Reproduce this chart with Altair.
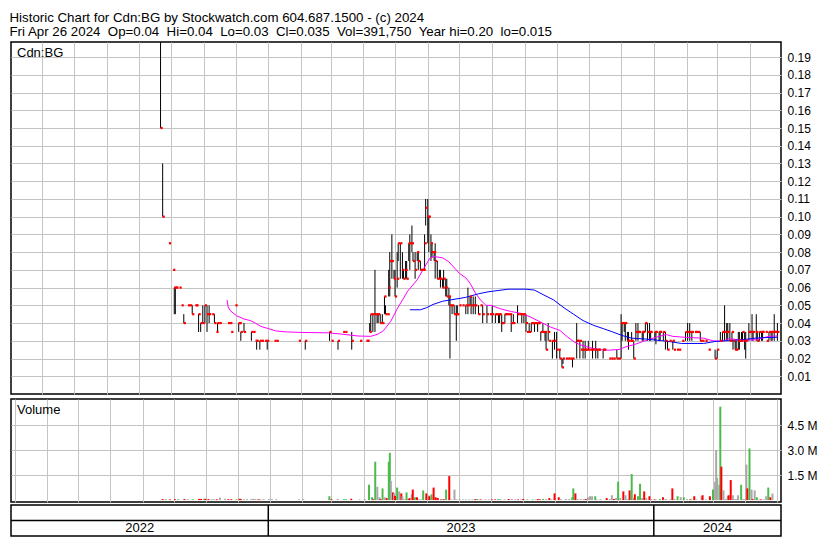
import altair as alt
import pandas as pd

FONT = "Liberation Sans"

# ---------------- data (day offsets from 2023-01-01) ----------------
# price bars: (day, high, low, close)
bars_2022 = [
    (-102, 0.20, 0.15, 0.15), (-100, 0.13, 0.10, 0.10), (-94, 0.085, 0.085, 0.085), (-90, 0.07, 0.07, 0.07),
    (-89, 0.06, 0.045, 0.06), (-88, 0.06, 0.045, 0.06), (-87, 0.06, 0.06, 0.06), (-84, 0.06, 0.06, 0.06),
    (-82, 0.05, 0.05, 0.05), (-80, 0.045, 0.04, 0.04), (-76, 0.05, 0.05, 0.05), (-74, 0.05, 0.05, 0.05),
    (-72, 0.05, 0.045, 0.045), (-69, 0.05, 0.05, 0.05), (-68, 0.05, 0.05, 0.05), (-66, 0.045, 0.035, 0.045),
    (-64, 0.04, 0.035, 0.04), (-62, 0.05, 0.04, 0.04), (-60, 0.05, 0.04, 0.05), (-58, 0.05, 0.035, 0.045),
    (-56, 0.05, 0.04, 0.045), (-53, 0.045, 0.045, 0.045), (-51, 0.045, 0.04, 0.04), (-49, 0.035, 0.035, 0.035),
    (-48, 0.04, 0.035, 0.04), (-46, 0.04, 0.04, 0.04), (-38, 0.04, 0.04, 0.04), (-36, 0.04, 0.04, 0.04),
    (-35, 0.035, 0.035, 0.035), (-31, 0.05, 0.05, 0.05), (-28, 0.04, 0.035, 0.04), (-27, 0.04, 0.04, 0.04),
    (-26, 0.035, 0.03, 0.035), (-23, 0.04, 0.035, 0.035), (-16, 0.035, 0.03, 0.035), (-14, 0.035, 0.035, 0.035),
    (-12, 0.03, 0.03, 0.03), (-11, 0.03, 0.025, 0.03), (-8, 0.03, 0.025, 0.03), (-6, 0.03, 0.03, 0.03),
    (-3, 0.03, 0.03, 0.03), (-1, 0.03, 0.025, 0.03),
]
bars_2023_q1 = [
    (6, 0.03, 0.03, 0.03), (8, 0.03, 0.03, 0.03), (29, 0.03, 0.03, 0.03), (35, 0.03, 0.025, 0.03),
    (58, 0.035, 0.03, 0.035), (60, 0.03, 0.03, 0.03), (66, 0.03, 0.025, 0.03), (71, 0.035, 0.035, 0.035),
    (73, 0.035, 0.035, 0.035), (79, 0.035, 0.025, 0.03), (87, 0.03, 0.03, 0.03), (93, 0.03, 0.03, 0.03),
    (94, 0.03, 0.03, 0.03),
]
bars_2023_q2 = [
    (96, 0.04, 0.035, 0.035), (97, 0.045, 0.035, 0.045), (99, 0.045, 0.035, 0.045), (101, 0.07, 0.035, 0.045),
    (103, 0.045, 0.04, 0.045), (104, 0.045, 0.04, 0.045), (106, 0.045, 0.04, 0.04), (108, 0.045, 0.04, 0.04),
    (110, 0.055, 0.045, 0.055), (111, 0.05, 0.045, 0.045), (113, 0.045, 0.045, 0.045), (114, 0.07, 0.055, 0.06),
    (115, 0.08, 0.055, 0.075), (117, 0.09, 0.065, 0.075), (119, 0.07, 0.065, 0.065), (120, 0.07, 0.055, 0.055),
    (122, 0.08, 0.06, 0.065), (123, 0.085, 0.075, 0.085), (125, 0.085, 0.065, 0.085), (127, 0.08, 0.065, 0.07),
    (128, 0.07, 0.065, 0.065), (130, 0.075, 0.065, 0.07), (131, 0.075, 0.065, 0.065), (133, 0.085, 0.075, 0.085),
    (134, 0.09, 0.07, 0.085), (136, 0.095, 0.08, 0.085), (137, 0.08, 0.075, 0.075), (139, 0.08, 0.065, 0.07),
    (141, 0.08, 0.075, 0.08), (142, 0.08, 0.07, 0.075), (144, 0.075, 0.07, 0.07), (145, 0.07, 0.07, 0.07),
    (147, 0.07, 0.07, 0.07), (148, 0.09, 0.07, 0.085), (149, 0.11, 0.095, 0.105), (151, 0.11, 0.085, 0.10),
    (152, 0.10, 0.08, 0.10), (154, 0.09, 0.075, 0.085), (155, 0.085, 0.077, 0.08), (157, 0.08, 0.075, 0.08),
    (158, 0.085, 0.065, 0.075), (160, 0.075, 0.065, 0.065), (162, 0.07, 0.065, 0.065), (163, 0.07, 0.06, 0.065),
    (165, 0.065, 0.06, 0.06), (166, 0.07, 0.06, 0.065), (168, 0.065, 0.055, 0.06), (169, 0.065, 0.055, 0.055),
    (171, 0.06, 0.05, 0.055), (172, 0.055, 0.02, 0.05), (174, 0.05, 0.045, 0.05), (176, 0.05, 0.045, 0.045),
    (178, 0.05, 0.03, 0.045), (179, 0.05, 0.045, 0.045), (181, 0.05, 0.05, 0.05), (184, 0.05, 0.05, 0.05),
    (187, 0.05, 0.045, 0.05), (189, 0.06, 0.045, 0.05), (191, 0.055, 0.05, 0.055), (192, 0.055, 0.045, 0.05),
    (194, 0.055, 0.045, 0.05), (196, 0.055, 0.045, 0.05), (199, 0.05, 0.045, 0.045), (201, 0.05, 0.05, 0.05),
    (203, 0.05, 0.04, 0.045), (207, 0.05, 0.04, 0.045),
]
bars_2023_h2 = [
    (210, 0.045, 0.045, 0.045), (212, 0.05, 0.04, 0.045), (215, 0.045, 0.04, 0.045), (216, 0.045, 0.045, 0.045),
    (218, 0.045, 0.04, 0.045), (219, 0.045, 0.04, 0.045), (221, 0.045, 0.035, 0.04), (222, 0.04, 0.04, 0.04),
    (224, 0.045, 0.04, 0.045), (225, 0.045, 0.045, 0.045), (227, 0.045, 0.045, 0.045), (229, 0.045, 0.045, 0.045),
    (230, 0.045, 0.035, 0.04), (232, 0.045, 0.04, 0.04), (236, 0.05, 0.04, 0.045), (238, 0.045, 0.045, 0.045),
    (240, 0.045, 0.04, 0.045), (242, 0.045, 0.04, 0.045), (244, 0.045, 0.035, 0.04), (245, 0.035, 0.035, 0.035),
    (247, 0.04, 0.035, 0.035), (249, 0.04, 0.035, 0.04), (250, 0.04, 0.04, 0.04), (252, 0.04, 0.035, 0.04),
    (253, 0.04, 0.04, 0.04), (255, 0.04, 0.035, 0.04), (256, 0.04, 0.04, 0.04), (258, 0.035, 0.03, 0.035),
    (260, 0.04, 0.035, 0.035), (262, 0.035, 0.03, 0.035), (263, 0.035, 0.025, 0.025), (265, 0.04, 0.03, 0.035),
    (266, 0.03, 0.03, 0.03), (269, 0.03, 0.02, 0.03), (271, 0.035, 0.025, 0.03), (273, 0.035, 0.02, 0.025),
    (275, 0.025, 0.025, 0.025), (276, 0.025, 0.02, 0.02), (278, 0.02, 0.015, 0.015), (279, 0.02, 0.017, 0.02),
    (282, 0.02, 0.02, 0.02), (284, 0.02, 0.02, 0.02), (286, 0.02, 0.02, 0.02), (288, 0.02, 0.015, 0.02),
    (292, 0.04, 0.02, 0.03), (293, 0.03, 0.03, 0.03), (295, 0.03, 0.02, 0.03), (296, 0.025, 0.025, 0.025),
    (298, 0.03, 0.02, 0.025), (300, 0.03, 0.02, 0.025), (301, 0.025, 0.025, 0.025), (303, 0.03, 0.025, 0.025),
    (305, 0.025, 0.025, 0.025), (307, 0.03, 0.02, 0.025), (309, 0.025, 0.025, 0.025), (310, 0.03, 0.02, 0.025),
    (312, 0.025, 0.02, 0.025), (313, 0.025, 0.025, 0.025), (317, 0.025, 0.02, 0.025), (318, 0.025, 0.025, 0.025),
    (323, 0.02, 0.02, 0.02), (325, 0.02, 0.02, 0.02), (327, 0.02, 0.02, 0.02), (330, 0.025, 0.02, 0.02),
    (332, 0.02, 0.02, 0.02),
]
bars_late = [
    (334, 0.045, 0.02, 0.04), (335, 0.04, 0.03, 0.04), (337, 0.04, 0.035, 0.04), (338, 0.04, 0.03, 0.04),
    (340, 0.035, 0.03, 0.03), (341, 0.035, 0.025, 0.03), (343, 0.03, 0.03, 0.03), (344, 0.035, 0.03, 0.03),
    (346, 0.03, 0.02, 0.02), (348, 0.04, 0.03, 0.035), (350, 0.04, 0.03, 0.035), (351, 0.035, 0.035, 0.035),
    (354, 0.035, 0.03, 0.035), (355, 0.035, 0.03, 0.035), (357, 0.04, 0.035, 0.04), (359, 0.04, 0.03, 0.035),
    (361, 0.04, 0.03, 0.035), (362, 0.035, 0.03, 0.035), (366, 0.035, 0.03, 0.035), (367, 0.035, 0.028, 0.035),
    (370, 0.035, 0.03, 0.035), (371, 0.035, 0.03, 0.035), (374, 0.035, 0.03, 0.035), (376, 0.035, 0.025, 0.03),
    (378, 0.03, 0.025, 0.025), (380, 0.03, 0.03, 0.03), (383, 0.03, 0.025, 0.03), (384, 0.025, 0.025, 0.025),
    (387, 0.025, 0.025, 0.025), (389, 0.025, 0.025, 0.025), (392, 0.03, 0.03, 0.03), (395, 0.035, 0.03, 0.035),
    (397, 0.04, 0.03, 0.035), (399, 0.04, 0.03, 0.035), (401, 0.035, 0.03, 0.035), (404, 0.035, 0.035, 0.035),
    (405, 0.035, 0.035, 0.035), (407, 0.035, 0.035, 0.035), (409, 0.035, 0.03, 0.03), (411, 0.03, 0.03, 0.03),
    (414, 0.03, 0.03, 0.03), (417, 0.025, 0.025, 0.025), (423, 0.025, 0.02, 0.02), (425, 0.025, 0.02, 0.025),
    (428, 0.035, 0.03, 0.03), (430, 0.035, 0.03, 0.035), (432, 0.05, 0.03, 0.035), (434, 0.04, 0.03, 0.035),
    (435, 0.04, 0.03, 0.035), (437, 0.04, 0.03, 0.03), (439, 0.035, 0.03, 0.035), (440, 0.03, 0.025, 0.03),
    (442, 0.03, 0.025, 0.025), (443, 0.03, 0.025, 0.025), (445, 0.035, 0.025, 0.03), (446, 0.035, 0.025, 0.03),
    (448, 0.035, 0.03, 0.03), (449, 0.035, 0.03, 0.035), (451, 0.035, 0.025, 0.03), (452, 0.035, 0.02, 0.03),
    (455, 0.04, 0.03, 0.035), (456, 0.035, 0.035, 0.035), (458, 0.045, 0.03, 0.035), (459, 0.035, 0.03, 0.035),
    (462, 0.045, 0.03, 0.035), (463, 0.035, 0.03, 0.03), (465, 0.035, 0.03, 0.035), (467, 0.035, 0.03, 0.035),
    (468, 0.035, 0.03, 0.035), (471, 0.035, 0.035, 0.035), (472, 0.03, 0.03, 0.03), (474, 0.035, 0.03, 0.035),
    (476, 0.035, 0.03, 0.035), (477, 0.035, 0.03, 0.035), (479, 0.045, 0.03, 0.035), (480, 0.035, 0.035, 0.035),
    (482, 0.04, 0.03, 0.035),
]

# volume: (day, millions of shares, direction)
vol_2022 = [
    (-103, 0.06, "down"), (-100, 0.05, "up"), (-96, 0.04, "down"), (-91, 0.05, "down"), (-88, 0.05, "up"),
    (-82, 0.06, "down"), (-79, 0.05, "flat"), (-74, 0.05, "up"), (-68, 0.07, "down"), (-66, 0.07, "down"),
    (-63, 0.08, "up"), (-62, 0.07, "down"), (-59, 0.06, "down"), (-56, 0.05, "flat"), (-54, 0.05, "flat"),
    (-51, 0.05, "down"), (-48, 0.15, "flat"), (-43, 0.08, "flat"), (-40, 0.05, "down"), (-37, 0.05, "down"),
    (-32, 0.05, "up"), (-29, 0.08, "down"), (-28, 0.06, "down"), (-25, 0.05, "flat"), (-22, 0.05, "flat"),
    (-18, 0.05, "flat"), (-16, 0.08, "flat"), (-14, 0.06, "flat"), (-11, 0.05, "down"), (-9, 0.05, "flat"),
    (-6, 0.05, "flat"), (-1, 0.06, "flat"),
]
vol_2023 = [
    (2, 0.05, "flat"), (6, 0.05, "flat"), (28, 0.05, "flat"), (32, 0.05, "flat"), (57, 0.23, "up"),
    (59, 0.05, "down"), (65, 0.07, "flat"), (71, 0.05, "up"), (73, 0.05, "up"), (78, 0.08, "down"),
    (86, 0.04, "flat"), (91, 0.05, "flat"),
    (95, 0.92, "up"), (98, 0.17, "up"), (99, 0.05, "down"), (101, 2.3, "up"), (103, 0.8, "flat"),
    (105, 0.17, "flat"), (106, 0.06, "down"), (108, 0.7, "up"), (110, 0.17, "flat"), (112, 0.12, "down"),
    (114, 2.3, "up"), (115, 2.83, "up"), (116, 1.15, "flat"), (118, 0.46, "down"), (119, 0.4, "flat"),
    (120, 0.25, "down"), (122, 0.75, "up"), (124, 0.52, "flat"), (126, 0.4, "down"), (127, 0.23, "flat"),
    (129, 0.06, "flat"), (131, 0.46, "up"), (133, 0.06, "down"), (134, 0.12, "down"), (136, 0.35, "flat"),
    (137, 0.63, "down"), (139, 0.17, "up"), (141, 0.17, "down"), (143, 0.04, "flat"), (145, 0.04, "flat"),
    (147, 0.58, "up"), (150, 0.4, "down"), (152, 0.29, "flat"), (153, 0.23, "down"), (155, 0.35, "up"),
    (157, 0.75, "down"), (159, 0.17, "down"), (161, 0.12, "down"), (164, 0.04, "down"), (166, 0.06, "flat"),
    (167, 0.04, "down"), (169, 0.63, "up"), (172, 1.44, "down"), (174, 0.04, "flat"), (177, 0.63, "flat"),
    (179, 0.04, "flat"), (182, 0.04, "flat"), (185, 0.04, "flat"), (188, 0.04, "flat"), (191, 0.04, "flat"),
    (194, 0.04, "flat"), (197, 0.06, "down"), (199, 0.06, "up"), (202, 0.04, "down"), (207, 0.04, "flat"),
    (210, 0.04, "flat"), (213, 0.04, "down"), (216, 0.04, "down"), (219, 0.06, "up"), (221, 0.06, "flat"),
    (225, 0.04, "flat"), (229, 0.06, "down"), (232, 0.06, "flat"), (235, 0.04, "flat"), (238, 0.04, "down"),
    (241, 0.04, "flat"), (243, 0.06, "down"), (247, 0.04, "up"), (252, 0.04, "up"), (255, 0.04, "flat"),
    (257, 0.06, "down"), (259, 0.04, "down"), (262, 0.06, "up"), (265, 0.06, "flat"), (268, 0.12, "down"),
    (270, 0.04, "flat"), (273, 0.4, "down"), (277, 0.17, "down"), (279, 0.06, "flat"), (284, 0.06, "flat"),
    (287, 0.06, "flat"), (290, 0.17, "up"), (291, 0.7, "up"), (293, 0.4, "down"), (295, 0.06, "flat"),
    (298, 0.06, "flat"), (301, 0.06, "flat"), (303, 0.06, "down"), (305, 0.17, "flat"), (307, 0.23, "flat"),
    (309, 0.23, "flat"), (312, 0.23, "up"), (313, 0.06, "flat"), (317, 0.06, "flat"), (323, 0.12, "down"),
    (326, 0.06, "flat"), (328, 0.29, "flat"), (330, 0.06, "down"), (332, 0.12, "flat"), (334, 1.1, "up"),
    (336, 0.12, "flat"), (339, 0.52, "down"), (341, 0.29, "flat"), (343, 0.06, "flat"), (345, 0.58, "down"),
    (347, 1.56, "up"), (349, 0.12, "flat"), (350, 0.35, "down"), (353, 0.23, "up"), (355, 0.98, "up"),
    (357, 0.12, "flat"), (359, 0.52, "down"), (361, 0.12, "flat"), (364, 0.23, "down"),
]
vol_2024 = [
    (366, 0.06, "flat"), (369, 0.04, "down"), (370, 0.04, "flat"), (374, 0.06, "up"), (377, 0.17, "down"),
    (378, 0.04, "flat"), (380, 0.06, "flat"), (384, 0.04, "flat"), (386, 0.7, "down"), (388, 0.06, "flat"),
    (391, 0.23, "up"), (394, 0.17, "flat"), (397, 0.17, "up"), (400, 0.06, "flat"), (403, 0.04, "down"),
    (404, 0.04, "up"), (407, 0.23, "down"), (409, 0.04, "flat"), (414, 0.23, "flat"), (415, 0.29, "down"),
    (418, 0.04, "flat"), (422, 0.23, "down"), (425, 0.63, "up"), (427, 1.1, "flat"), (428, 3.0, "flat"),
    (429, 1.33, "flat"), (431, 0.92, "flat"), (432, 5.6, "up"), (433, 2.0, "down"), (435, 0.58, "flat"),
    (437, 0.06, "flat"), (439, 0.23, "flat"), (440, 0.29, "down"), (442, 1.2, "down"), (444, 0.29, "flat"),
    (446, 0.06, "flat"), (448, 0.06, "flat"), (449, 0.29, "flat"), (452, 0.92, "up"), (454, 0.06, "flat"),
    (456, 0.06, "flat"), (457, 2.13, "flat"), (458, 0.7, "down"), (460, 3.1, "up"), (462, 0.63, "flat"),
    (463, 0.06, "down"), (465, 0.58, "flat"), (467, 0.17, "up"), (469, 0.04, "flat"), (471, 0.04, "down"),
    (474, 0.04, "flat"), (476, 0.23, "flat"), (478, 0.75, "up"), (480, 0.17, "down"), (482, 0.39, "flat"),
]

# moving averages: (day, price)
ma_short = [
    (-39, 0.053), (-38, 0.049), (-36, 0.047), (-30, 0.0441), (-23, 0.0423), (-17, 0.0414), (-12, 0.0399),
    (-7, 0.0381), (0, 0.0369), (7, 0.0356), (17, 0.0350), (32, 0.0347), (57, 0.0345), (69, 0.0338),
    (85, 0.0327), (97, 0.0325), (104, 0.0338), (109, 0.0357), (116, 0.041), (122, 0.048), (132, 0.058),
    (141, 0.0644), (148, 0.0716), (153, 0.0766), (157, 0.0775), (165, 0.0768), (171, 0.0745), (181, 0.068),
    (187, 0.0655), (191, 0.0625), (196, 0.057), (201, 0.053), (206, 0.050), (211, 0.050), (220, 0.048),
    (230, 0.0465), (239, 0.0455), (248, 0.0435), (258, 0.0405), (267, 0.0378), (276, 0.0359), (283, 0.0323),
    (289, 0.0296), (295, 0.0278), (304, 0.0262), (313, 0.0251), (322, 0.0247), (332, 0.0251), (338, 0.0265),
    (347, 0.0280), (359, 0.0305), (370, 0.0325), (377, 0.0335), (383, 0.0325), (396, 0.0319), (412, 0.0315),
    (421, 0.0300), (430, 0.0297), (436, 0.0312), (449, 0.0303), (461, 0.0306), (474, 0.0325), (482, 0.0328),
]
ma_long = [
    (134, 0.0475), (144, 0.0475), (150, 0.0487), (156, 0.0505), (165, 0.0523), (174, 0.0532), (187, 0.0545),
    (199, 0.0565), (208, 0.0576), (227, 0.0591), (244, 0.0591), (252, 0.0586), (261, 0.0558), (270, 0.0531),
    (280, 0.0486), (289, 0.0450), (298, 0.0414), (308, 0.0387), (317, 0.0369), (326, 0.0350), (335, 0.0330),
    (344, 0.0315), (357, 0.0310), (372, 0.0301), (382, 0.0294), (391, 0.0285), (412, 0.0285), (424, 0.0297),
    (437, 0.0301), (449, 0.0306), (461, 0.0315), (474, 0.0319), (482, 0.0320),
]

year_labels = ["2022", "2023", "2024"]
price_ticks = [0.01, 0.02, 0.03, 0.04, 0.05, 0.06, 0.07, 0.08, 0.09, 0.10,
               0.11, 0.12, 0.13, 0.14, 0.15, 0.16, 0.17, 0.18, 0.19]
volume_ticks = [1.5, 3.0, 4.5]

header_1 = "Historic Chart for Cdn:BG by Stockwatch.com 604.687.1500 - (c) 2024"
header_2 = ("Fri Apr 26 2024 \u00a0Op=0.04 \u00a0Hi=0.04 \u00a0Lo=0.03 \u00a0Cl=0.035 "
            "\u00a0Vol=391,750 \u00a0Year hi=0.20 \u00a0lo=0.015")

# ---------------- build frames ----------------
BASE = pd.Timestamp("2023-01-01")


def to_date(d):
    return (BASE + pd.Timedelta(days=int(d))).strftime("%Y-%m-%d")


bars = pd.DataFrame(bars_2022 + bars_2023_q1 + bars_2023_q2 + bars_2023_h2 + bars_late,
                    columns=["day", "hi", "lo", "cl"])
bars["date"] = bars["day"].map(to_date)

vols = pd.DataFrame(vol_2022 + vol_2023 + vol_2024, columns=["day", "v", "dir"])
vols["date"] = vols["day"].map(to_date)

ma1 = pd.DataFrame(ma_short, columns=["day", "val"])
ma1["date"] = ma1["day"].map(to_date)
ma2 = pd.DataFrame(ma_long, columns=["day", "val"])
ma2["date"] = ma2["day"].map(to_date)

d_start = pd.Timestamp("2022-05-02 10:00")
d_end = pd.Timestamp("2024-04-30 10:00")
bounds = [d_start, pd.Timestamp("2023-01-01"), pd.Timestamp("2024-01-01"), d_end]
years = pd.DataFrame({
    "year": year_labels,
    "date": [(bounds[i] + (bounds[i + 1] - bounds[i]) / 2).strftime("%Y-%m-%dT%H:%M:%SZ") for i in range(3)],
})
dividers = pd.DataFrame({"date": ["2023-01-01", "2024-01-01"]})

# ---------------- chart ----------------
W = 770
HP = 352
HV = 103
HB = 31
GRID = "#c4c4c4"

xs = alt.Scale(type="utc", domain=[
    alt.DateTime(year=2022, month=5, date=2, hours=10, utc=True),
    alt.DateTime(year=2024, month=4, date=30, hours=10, utc=True)])
x_axis = alt.Axis(grid=True, labels=False, ticks=False, domain=False, title=None,
                  tickCount={"interval": "month", "step": 1})
p_scale = alt.Scale(domain=[0, 0.1985], nice=False, zero=False)
p_axis = alt.Axis(orient="right", values=price_ticks, tickCount=40, format=".2f", grid=True,
                  domain=False, ticks=False, labelPadding=6, title=None, labelOverlap=False)

pb = alt.Chart(bars)
hl = pb.mark_rule(color="black", strokeWidth=1, clip=True).encode(
    x=alt.X("date:T", scale=xs, axis=x_axis),
    y=alt.Y("hi:Q", scale=p_scale, axis=p_axis),
    y2="lo:Q",
)
cl = pb.mark_square(color="#ff0000", size=5, filled=True, opacity=1, xOffset=1, clip=True).encode(
    x="date:T", y="cl:Q")
l1 = alt.Chart(ma1).mark_line(color="#ff00ff", strokeWidth=1).encode(x="date:T", y="val:Q")
l2 = alt.Chart(ma2).mark_line(color="#0000ff", strokeWidth=1).encode(x="date:T", y="val:Q")
lab1 = alt.Chart(pd.DataFrame({"t": ["Cdn:BG"]})).mark_text(
    align="left", baseline="middle", font=FONT, fontSize=13, color="black").encode(
    x=alt.value(6), y=alt.value(11), text="t:N")
price = alt.layer(hl, l1, l2, cl, lab1).properties(width=W, height=HP)

v_scale = alt.Scale(domain=[-0.115, 6.06], nice=False, zero=False)
v_axis = alt.Axis(orient="right", values=volume_ticks, tickCount=10,
                  labelExpr="format(datum.value, '.1f') + ' M'",
                  grid=True, domain=False, ticks=False, labelPadding=6, title=None, labelOverlap=False)
vb = alt.Chart(vols).mark_bar(size=2).encode(
    x=alt.X("date:T", scale=xs, axis=x_axis),
    y=alt.Y("v:Q", scale=v_scale, axis=v_axis),
    y2=alt.datum(0),
    color=alt.Color("dir:N", scale=alt.Scale(domain=["up", "down", "flat"],
                                             range=["#4cbb4c", "#ff0000", "#a8a8a8"]), legend=None),
)
lab2 = alt.Chart(pd.DataFrame({"t": ["Volume"]})).mark_text(
    align="left", baseline="middle", font=FONT, fontSize=13, color="black").encode(
    x=alt.value(6), y=alt.value(11), text="t:N")
volume = alt.layer(vb, lab2).properties(width=W, height=HV)

band_y = alt.Scale(domain=[0, 2])
div = alt.Chart(dividers).mark_rule(color="black", strokeWidth=1.5).encode(
    x=alt.X("date:T", scale=xs, axis=None))
mid = alt.Chart(years.head(1)).mark_rule(color="black", strokeWidth=1.5).encode(
    y=alt.Y(datum=1, scale=band_y, axis=None))
ytxt = alt.Chart(years).mark_text(font=FONT, fontSize=13, color="black", baseline="middle").encode(
    x=alt.X("date:T", scale=xs, axis=None),
    y=alt.Y(datum=0.5, scale=band_y, axis=None),
    text="year:N")
band = alt.layer(div, mid, ytxt).properties(width=W, height=HB)

chart = alt.vconcat(
    price,
    alt.vconcat(volume, band, spacing=0),
    spacing=3,
).properties(
    title=alt.TitleParams(text=[header_1, header_2], anchor="start", font=FONT, fontSize=13.3,
                          fontWeight="normal", color="black", lineHeight=14, offset=3),
    padding={"left": 1, "top": 2, "right": 0, "bottom": 1},
).configure_view(
    stroke="black", strokeWidth=1.5
).configure_axis(
    labelFont=FONT, labelFontSize=12, labelColor="black", gridColor=GRID, gridWidth=1,
).configure_concat(spacing=0)

chart.save("out.html", embed_options={"renderer": "svg", "actions": False})
